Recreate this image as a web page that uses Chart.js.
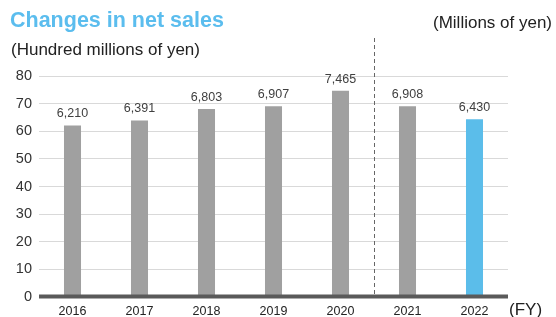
<!DOCTYPE html>
<html><head><meta charset="utf-8">
<script src="https://cdn.jsdelivr.net/npm/chart.js@4/dist/chart.umd.min.js"></script>
<style>
html,body{margin:0;padding:0;background:#fff;}
#wrap{position:relative;width:556px;height:317px;font-family:"Liberation Sans",Arial,sans-serif;}
canvas{position:absolute;left:0;top:0;}
.t{position:absolute;white-space:nowrap;}
</style></head><body>
<div id="wrap">
<canvas id="c" width="556" height="317"></canvas>
<div class="t" style="left:10px;top:9.5px;font-size:21.5px;line-height:21.5px;font-weight:bold;color:#5bbdee;">Changes in net sales</div>
<div class="t" style="left:11px;top:40.5px;font-size:17px;line-height:17px;color:#222;">(Hundred millions of yen)</div>
<div class="t" style="left:433px;top:13.5px;font-size:17px;line-height:17px;color:#222;">(Millions of yen)</div>
<div class="t" style="left:509px;top:300.5px;font-size:17px;line-height:17px;color:#222;">(FY)</div>
</div>
<script>
const categories = ["2016","2017","2018","2019","2020","2021","2022"];
const values = [62.10, 63.91, 68.03, 69.07, 74.65, 69.08, 64.30];
const valueLabels = ["6,210","6,391","6,803","6,907","7,465","6,908","6,430"];
const yTicks = [0,10,20,30,40,50,60,70,80];

const colors = categories.map((c,i)=> i===categories.length-1 ? '#5bbdea' : '#a0a0a0');

const overlay = {
  id:'overlay',
  afterDatasetsDraw(chart){
    const ctx = chart.ctx, a = chart.chartArea, x = chart.scales.x, y = chart.scales.y;
    const meta = chart.getDatasetMeta(0);
    ctx.save();
    ctx.font = '12.5px "Liberation Sans", Arial, sans-serif';
    ctx.fillStyle = '#404040';
    ctx.textAlign = 'center';
    ctx.textBaseline = 'alphabetic';
    meta.data.forEach((b,i)=>{ ctx.fillText(valueLabels[i], b.x, b.y - 8); });
    // baseline
    ctx.fillStyle = '#5a5a5a';
    const y0 = y.getPixelForValue(0);
    ctx.fillRect(a.left, y0 - 2.5, a.right - a.left, 4);
    // dashed divider
    const xd = (x.getPixelForValue(4) + x.getPixelForValue(5)) / 2;
    ctx.strokeStyle = '#666';
    ctx.lineWidth = 1;
    ctx.setLineDash([4,3]);
    ctx.beginPath();
    ctx.moveTo(Math.round(xd)+0.5, 38);
    ctx.lineTo(Math.round(xd)+0.5, y0 - 2);
    ctx.stroke();
    ctx.restore();
  }
};

new Chart(document.getElementById('c'), {
  type:'bar',
  data:{ labels:categories, datasets:[{ data:values, backgroundColor:colors, borderWidth:0, barPercentage:0.254, categoryPercentage:1 }]},
  options:{
    responsive:false, animation:false,
    layout:{ padding:{ top:76, right:48, left:0, bottom:0 } },
    plugins:{ legend:{display:false}, tooltip:{enabled:false} },
    scales:{
      x:{
        grid:{ display:false, drawTicks:false, tickLength:0 }, border:{ display:false },
        ticks:{ color:'#222', font:{ size:12.5, family:'"Liberation Sans", Arial, sans-serif' }, padding:7, maxRotation:0 },
        afterFit(s){ s.height = 20; }
      },
      y:{
        min:0, max:80,
        afterBuildTicks(s){ s.ticks = yTicks.map(v=>({value:v})); },
        grid:{ color:'#d9d9d9', lineWidth:1, drawTicks:false }, border:{ display:false },
        ticks:{ color:'#333', font:{ size:14.5, family:'"Liberation Sans", Arial, sans-serif' }, padding:7 },
        afterFit(s){ s.width = 39; }
      }
    }
  },
  plugins:[overlay]
});
</script>
</body></html>
